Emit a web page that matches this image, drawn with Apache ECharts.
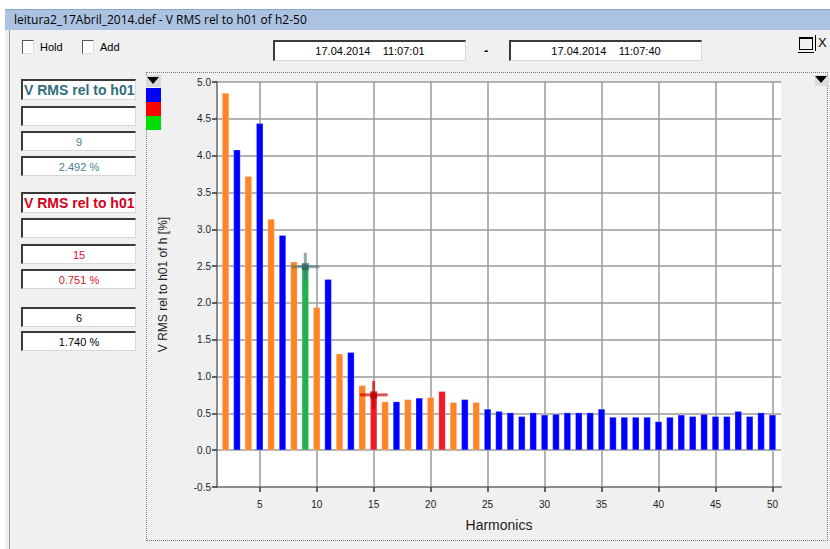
<!DOCTYPE html>
<html>
<head>
<meta charset="utf-8">
<script src="https://cdn.jsdelivr.net/npm/echarts@6/dist/echarts.min.js"></script>
<style>
  html, body { margin: 0; padding: 0; background: #ffffff; }
  #win { position: absolute; left: 5px; top: 9px; width: 830px; height: 545px; background: #f0f0f0; overflow: hidden; font-family: "Liberation Sans", Arial, sans-serif; }
  #titlebar { position: absolute; left: 0; top: 0; width: 830px; height: 21px; background: #abc3e0; border-top: 1px solid #8aa6c8; box-sizing: border-box; font-family: "Open Sans", "Noto Sans", sans-serif; font-size: 12px; line-height: 19px; padding-left: 9px; color: #000; }
  #leftedge { position: absolute; left: 4px; top: 21px; width: 1px; height: 530px; background: #9a9a9a; }
  .chk { position: absolute; width: 10px; height: 12px; background: #fff; border-top: 1px solid #555; border-left: 1px solid #555; border-right: 1px solid #ddd; border-bottom: 1px solid #ddd; }
  .lbl { position: absolute; font-family: "Liberation Sans", Arial, sans-serif; font-size: 11px; color: #000; }
  .sunk { position: absolute; background: #fff; box-sizing: border-box; border-top: 2px solid #3a3a3a; border-left: 2px solid #3a3a3a; border-right: 1px solid #d8d8d8; border-bottom: 1px solid #d8d8d8; text-align: center; white-space: pre; overflow: hidden; font-family: "Liberation Sans", Arial, sans-serif; font-size: 11px; }
  .ttl { text-align: left; font-weight: bold; font-size: 14px; padding-left: 1px; }
  #panel { position: absolute; left: 141px; top: 63px; width: 682px; height: 469px; border: 1px dotted #7a7a7a; box-sizing: border-box; }
  #chart { position: absolute; left: 142px; top: 64px; width: 680px; height: 467px; }
  .sw { position: absolute; left: 141px; width: 15px; height: 14px; }
  .tri { position: absolute; width: 0; height: 0; border-left: 6px solid transparent; border-right: 6px solid transparent; border-top: 7px solid #000; }
</style>
</head>
<body>
<div id="win">
  <div id="titlebar">leitura2_17Abril_2014.def - V RMS rel to h01 of h2-50</div>
  <div id="leftedge"></div>

  <div class="chk" style="left:17px; top:31px;"></div>
  <div class="lbl" style="left:35px; top:32px;">Hold</div>
  <div class="chk" style="left:77px; top:31px;"></div>
  <div class="lbl" style="left:95px; top:32px;">Add</div>

  <div class="sunk" style="left:268px; top:31px; width:193px; height:21px; line-height:18px;">17.04.2014    11:07:01</div>
  <div class="lbl" style="left:479px; top:34px; font-weight:bold; font-size:13px;">-</div>
  <div class="sunk" style="left:504px; top:31px; width:193px; height:21px; line-height:18px;">17.04.2014    11:07:40</div>

  <div style="position:absolute; left:794px; top:28px; width:12px; height:10px; border:1px solid #000; border-top-width:2px; background:#f0f0f0;"></div>
  <div style="position:absolute; left:793px; top:43px; width:16px; height:1px; background:#000;"></div>
  <div style="position:absolute; left:810px; top:26px; width:1px; height:16px; background:#000;"></div>
  <div class="lbl" style="left:813px; top:26px; font-size:13px;">X</div>

  <div class="sunk ttl" style="left:16px; top:70px; width:115px; height:21px; line-height:19px; color:#2e6d7d;">V RMS rel to h01</div>
  <div class="sunk" style="left:16px; top:97px; width:115px; height:20px;"></div>
  <div class="sunk" style="left:16px; top:122px; width:115px; height:20px; line-height:18px; color:#4a8090;">9</div>
  <div class="sunk" style="left:16px; top:147px; width:115px; height:20px; line-height:18px; color:#4a8090;">2.492 %</div>

  <div class="sunk ttl" style="left:16px; top:183px; width:115px; height:21px; line-height:19px; color:#d4001a;">V RMS rel to h01</div>
  <div class="sunk" style="left:16px; top:209px; width:115px; height:20px;"></div>
  <div class="sunk" style="left:16px; top:235px; width:115px; height:20px; line-height:18px; color:#e0102a;">15</div>
  <div class="sunk" style="left:16px; top:260px; width:115px; height:20px; line-height:18px; color:#e0102a;">0.751 %</div>

  <div class="sunk" style="left:16px; top:298px; width:115px; height:20px; line-height:18px; color:#000;">6</div>
  <div class="sunk" style="left:16px; top:322px; width:115px; height:20px; line-height:18px; color:#000;">1.740 %</div>

  <div id="panel"></div>
  <div id="chart"></div>

  <div style="position:absolute; left:141px; top:66px; width:15px; height:12px; background:#d8d8d8;"></div>
  <div class="tri" style="left:142px; top:68px;"></div>
  <div class="sw" style="top:79px; background:#0000ff;"></div>
  <div class="sw" style="top:93px; background:#ff0000;"></div>
  <div class="sw" style="top:107px; background:#00dd00;"></div>

  <div style="position:absolute; left:810px; top:66px; width:14px; height:11px; background:#dcdcdc;"></div>
  <div class="tri" style="left:810px; top:67px;"></div>
</div>

<script>
// Harmonic orders shown on the x axis
const harmonics = [2, 3, 4, 5, 6, 7, 8, 9, 10, 11, 12, 13, 14, 15, 16, 17, 18, 19, 20, 21,
  22, 23, 24, 25, 26, 27, 28, 29, 30, 31, 32, 33, 34, 35, 36, 37, 38, 39, 40, 41,
  42, 43, 44, 45, 46, 47, 48, 49, 50];

// V RMS of each harmonic relative to h01, in %
const vrmsRel = [4.85, 4.08, 3.72, 4.44, 3.14, 2.92, 2.56, 2.492, 1.94, 2.32,
  1.31, 1.33, 0.88, 0.751, 0.66, 0.66, 0.69, 0.71, 0.72, 0.80,
  0.65, 0.69, 0.65, 0.56, 0.53, 0.51, 0.46, 0.51, 0.48, 0.49,
  0.51, 0.51, 0.51, 0.56, 0.45, 0.45, 0.45, 0.45, 0.39, 0.45,
  0.48, 0.46, 0.49, 0.46, 0.46, 0.53, 0.46, 0.51, 0.48];

// Harmonics drawn in the alternate bar colours
const evenGroup = [2, 4, 6, 8, 10, 12, 14, 16, 18, 20, 22, 24];
const redGroup = [15, 21];

// Cursor positions (harmonic, value %)
const cursorA = [9, 2.492];
const cursorB = [15, 0.751];

// Axis ticks
const xTicks = [5, 10, 15, 20, 25, 30, 35, 40, 45, 50];

const COLORS = { blue: '#0000ff', orange: '#ff8426', red: '#ee1c2a', green: '#22b14c' };

function barColor(h) {
  if (h === cursorA[0]) return COLORS.green;
  if (redGroup.includes(h)) return COLORS.red;
  if (evenGroup.includes(h)) return COLORS.orange;
  return COLORS.blue;
}

const barData = harmonics.map((h, i) => ({
  value: [h, vrmsRel[i]],
  itemStyle: { color: barColor(h) }
}));

function cursorSeries(pos, color, lineColor) {
  const common = { type: 'scatter', z: 10, silent: true, data: [pos] };
  return [
    Object.assign({}, common, { symbol: 'rect', symbolSize: [28, 3], itemStyle: { color: lineColor } }),
    Object.assign({}, common, { symbol: 'rect', symbolSize: [3, 28], itemStyle: { color: lineColor } }),
    Object.assign({}, common, { symbol: 'rect', symbolSize: [7, 7], itemStyle: { color: color } })
  ];
}

const chart = echarts.init(document.getElementById('chart'), null, { renderer: 'svg' });

const axisFont = { fontFamily: 'Liberation Sans, Arial, sans-serif', color: '#222' };

chart.setOption({
  animation: false,
  backgroundColor: 'transparent',
  grid: { left: 70, top: 9, right: 46, bottom: 53, backgroundColor: '#ffffff', show: true, borderWidth: 0 },
  xAxis: {
    type: 'value',
    min: 1.25,
    max: 50.75,
    name: 'Harmonics',
    nameLocation: 'middle',
    nameGap: 31,
    nameTextStyle: Object.assign({ fontSize: 14 }, axisFont),
    axisLine: { onZero: false, lineStyle: { color: '#8a8a8a', width: 2 } },
    axisTick: { customValues: xTicks, length: 5, lineStyle: { color: '#333', width: 1.5 } },
    axisLabel: Object.assign({ customValues: xTicks, fontSize: 10, margin: 12 }, axisFont),
    splitLine: { show: true, lineStyle: { color: '#9a9a9a', width: 1.5 } }
  },
  yAxis: {
    type: 'value',
    min: -0.5,
    max: 5,
    interval: 0.5,
    name: 'V RMS rel to h01 of h [%]',
    nameLocation: 'middle',
    nameGap: 48,
    nameTextStyle: Object.assign({ fontSize: 12 }, axisFont),
    axisLine: { show: true, lineStyle: { color: '#8a8a8a', width: 2 } },
    axisTick: { show: true, length: 5, lineStyle: { color: '#333', width: 1.5 } },
    axisLabel: Object.assign({ fontSize: 10, margin: 6, formatter: v => v.toFixed(1) }, axisFont),
    splitLine: { show: true, lineStyle: { color: '#9a9a9a', width: 1.5 } }
  },
  series: [
    {
      type: 'bar',
      barWidth: 7,
      data: barData,
      itemStyle: { borderColor: 'rgba(255,255,255,0.5)', borderWidth: 0.5 }
    }
  ].concat(
    cursorSeries(cursorA, '#2f6464', 'rgba(70,120,120,0.75)'),
    cursorSeries(cursorB, '#b80000', 'rgba(200,0,0,0.85)')
  )
});
</script>
</body>
</html>
